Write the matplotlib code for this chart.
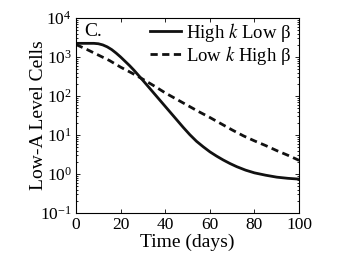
import matplotlib
matplotlib.use("Agg")
import matplotlib.pyplot as plt
import numpy as np
from matplotlib.ticker import LogLocator, FixedLocator

plt.rcParams['font.family'] = ['Liberation Serif', 'DejaVu Serif']
plt.rcParams['mathtext.fontset'] = 'stix'

days_solid = [0, 4, 8, 10, 12, 14, 16, 18, 20, 22, 24, 26, 28, 30, 33, 36, 39, 42, 45, 48,
              51, 54, 57, 60, 63, 66, 69, 72, 76, 80, 85, 90, 95, 100]
high_k_low_beta_log = [3.35, 3.35, 3.35, 3.34, 3.31, 3.26, 3.19, 3.10, 3.00, 2.89, 2.78,
                       2.66, 2.53, 2.40, 2.20, 2.00, 1.80, 1.60, 1.40, 1.20, 1.01, 0.84,
                       0.70, 0.57, 0.46, 0.36, 0.27, 0.19, 0.10, 0.03, -0.03, -0.08, -0.11,
                       -0.13]
days_dashed = [0, 5, 10, 15, 20, 25, 30, 35, 40, 45, 50, 55, 60, 65, 70, 75, 80, 85, 90, 95, 100]
low_k_high_beta_log = [3.32, 3.19, 3.05, 2.91, 2.74, 2.59, 2.43, 2.26, 2.08, 1.92, 1.76,
                       1.60, 1.45, 1.29, 1.13, 0.98, 0.85, 0.73, 0.60, 0.48, 0.35]
x_ticks = [0, 20, 40, 60, 80, 100]

fig = plt.figure(figsize=(3.47, 2.57), dpi=100)
ax = fig.add_axes([0.219, 0.171, 0.643, 0.759])

ax.plot(days_solid, 10 ** np.array(high_k_low_beta_log), color='#111111', lw=2.0, ls='-',
        label=r'High $k$ Low β')
ax.plot(days_dashed, 10 ** np.array(low_k_high_beta_log), color='#111111', lw=2.0,
        ls=(0, (2.6, 1.6)), label=r'Low $k$ High β')

ax.set_yscale('log')
ax.set_xlim(0, 100)
ax.set_ylim(1e-1, 1e4)
ax.xaxis.set_major_locator(FixedLocator(x_ticks))
ax.yaxis.set_major_locator(LogLocator(base=10, numticks=10))
ax.yaxis.set_minor_locator(LogLocator(base=10, subs=np.arange(2, 10), numticks=10))
ax.tick_params(which='both', direction='in', top=True, right=True, labelsize=12.5, width=0.6)
ax.tick_params(which='major', length=3, pad=3)
ax.tick_params(which='minor', length=1.5)
for s in ax.spines.values():
    s.set_linewidth(0.8)

ax.set_xlabel('Time (days)', fontsize=14, labelpad=0)
ax.set_ylabel('Low-A Level Cells', fontsize=14)
ax.yaxis.set_label_coords(-0.128, 0.5)
ax.text(0.035, 0.975, 'C.', transform=ax.transAxes, fontsize=14, va='top', ha='left')

leg = ax.legend(loc='upper right', bbox_to_anchor=(0.975, 1.0), fontsize=13.5, frameon=False,
                handlelength=1.65, handletextpad=0.25, borderaxespad=0.1,
                labelspacing=0.0, borderpad=0.05)

fig.savefig('out.png', dpi=100)
